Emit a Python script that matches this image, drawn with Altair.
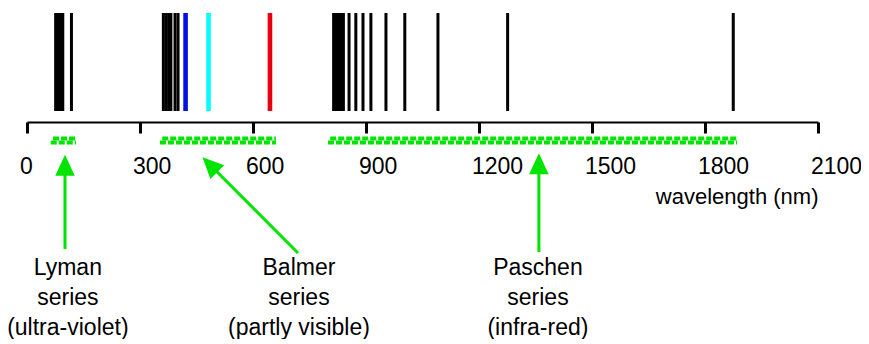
import altair as alt
import pandas as pd

# ---------------- data (wavelengths in nm) ----------------
lyman_nm = [76, 82, 89, 95, 118]
balmer_nm = [362, 369, 376, 382, 393, 401]
balmer_visible_nm = [421, 482, 645]
balmer_visible_names = ["blue", "cyan", "red"]
paschen_nm = [814, 820, 827, 833, 840, 855, 873, 892, 913, 953, 1003, 1091, 1276, 1875]

tick_values = [0, 300, 600, 900, 1200, 1500, 1800, 2100]

series_names = ["Lyman", "Balmer", "Paschen"]
series_regions = ["(ultra-violet)", "(partly visible)", "(infra-red)"]
band_start_nm = [63, 353, 799]
band_end_nm = [130, 661, 1885]

# ---------------- layout / style ----------------
W, H = 791, 114
GREEN = "#00e400"
FONT = "Liberation Sans"
visible_colors = ["#0010e0", "#00ffff", "#e80010"]

x_scale = alt.Scale(domain=[0, 2100], nice=False, zero=False)

lines_black = pd.DataFrame({"nm": lyman_nm + balmer_nm + paschen_nm})
lines_vis = pd.DataFrame({"nm": balmer_visible_nm, "name": balmer_visible_names})
bands = pd.DataFrame({"start": band_start_nm, "end": band_end_nm})

base_x = alt.X(
    "nm:Q",
    scale=x_scale,
    axis=alt.Axis(
        values=tick_values,
        format="d",
        title="wavelength (nm)",
        titleX=W,
        titleY=81,
        titleAlign="right",
        titleBaseline="alphabetic",
        titleFont=FONT,
        titleFontSize=22,
        titleFontWeight="normal",
        titleColor="black",
        labelFont=FONT,
        labelFontSize=23,
        labelColor="black",
        labelAlign="left",
        labelBaseline="alphabetic",
        labelOffset=-7.5,
        labelPadding=40,
        labelFlush=False,
        labelOverlap=False,
        domainColor="black",
        domainWidth=2,
        tickColor="black",
        tickWidth=3,
        tickSize=11,
        grid=False,
    ),
)

black_lines = alt.Chart(lines_black).mark_rule(color="black", strokeWidth=3).encode(
    x=base_x, y=alt.value(5), y2=alt.value(103)
)

vis_lines = alt.Chart(lines_vis).mark_rule(strokeWidth=4.6).encode(
    x=alt.X("nm:Q", scale=x_scale),
    y=alt.value(5),
    y2=alt.value(103),
    color=alt.Color(
        "name:N",
        scale=alt.Scale(domain=balmer_visible_names, range=visible_colors),
        legend=None,
    ),
)

band_bottom = alt.Chart(bands).mark_rule(
    color=GREEN, strokeWidth=4, strokeDash=[6, 2]
).encode(
    x=alt.X("start:Q", scale=x_scale), x2="end:Q", y=alt.value(134.5)
)
band_top = alt.Chart(bands).mark_rule(
    color=GREEN, strokeWidth=4, strokeDash=[6, 2], xOffset=2.3
).encode(
    x=alt.X("start:Q", scale=x_scale), x2="end:Q", y=alt.value(130.5)
)

# arrows (annotation geometry)
arrow_df = pd.DataFrame({
    "x": [100.9, 719.4, 1359.0],
    "x2": [100.9, 486.9, 1359.0],
})
shaft_y = [241, 245, 244]
shaft_y2 = [160, 157.2, 158]
head_y = [158, 157.2, 156.5]
head_angle = [0, 315, 0]

shafts = []
heads = []
for i in range(3):
    d = arrow_df.iloc[[i]]
    shafts.append(
        alt.Chart(d).mark_rule(color=GREEN, strokeWidth=3).encode(
            x=alt.X("x:Q", scale=x_scale), x2="x2:Q",
            y=alt.value(shaft_y[i]), y2=alt.value(shaft_y2[i]),
        )
    )
    heads.append(
        alt.Chart(d).mark_point(
            shape="M0,-1.15L-1,1L1,1Z", size=380, filled=True, opacity=1,
            color=GREEN, angle=head_angle[i], strokeWidth=0,
        ).encode(
            x=alt.X("x2:Q", scale=x_scale), y=alt.value(head_y[i])
        )
    )

labels = pd.DataFrame({
    "x": [108.5, 722, 1356.5],
    "label": ["\n".join([n, "series", r]) for n, r in zip(series_names, series_regions)],
})
label_text = alt.Chart(labels).mark_text(
    font=FONT, fontSize=23, color="black", align="center",
    baseline="alphabetic", lineBreak="\n", lineHeight=30,
).encode(
    x=alt.X("x:Q", scale=x_scale), y=alt.value(267), text="label:N"
)

chart = alt.layer(
    black_lines, vis_lines, band_bottom, band_top, *shafts, *heads, label_text
).properties(
    width=W,
    height=H,
    autosize=alt.AutoSizeParams(type="none"),
    padding={"left": 19, "top": 0, "right": 43, "bottom": 217},
    background="white",
).configure_view(stroke=None)

chart.save("out.html", embed_options={"renderer": "svg", "actions": False})
